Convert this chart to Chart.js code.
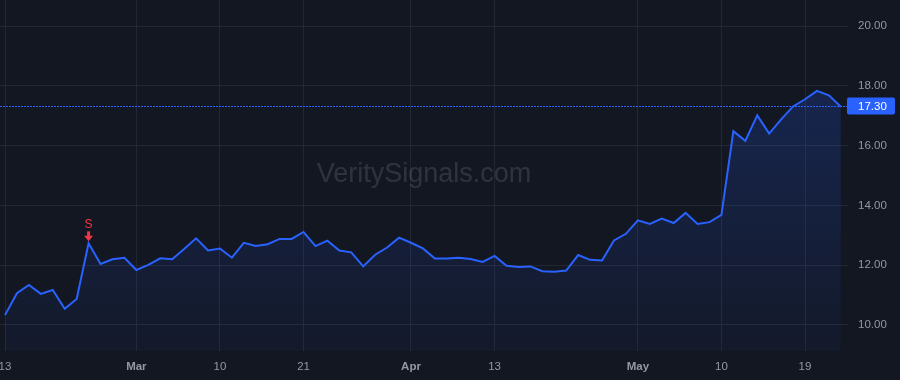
<!DOCTYPE html>
<html>
<head>
<meta charset="utf-8">
<script src="https://cdn.jsdelivr.net/npm/chart.js@4.4.1/dist/chart.umd.min.js"></script>
<style>
html,body{margin:0;padding:0;background:#131722;overflow:hidden;}
#wrap{width:900px;height:380px;position:relative;}
</style>
</head>
<body>
<div id="wrap"><canvas id="c" width="900" height="380"></canvas></div>
<script>
// ---- data ----
const prices = [
  10.33, 11.06, 11.34, 11.04, 11.17, 10.54, 10.87, 12.73, 12.04, 12.20,
  12.25, 11.84, 12.01, 12.23, 12.20, 12.54, 12.90, 12.49, 12.56, 12.25,
  12.75, 12.64, 12.70, 12.88, 12.88, 13.11, 12.64, 12.82, 12.49, 12.43,
  11.96, 12.35, 12.59, 12.92, 12.75, 12.56, 12.22, 12.22, 12.25, 12.21,
  12.11, 12.31, 11.98, 11.94, 11.96, 11.80, 11.78, 11.82, 12.34, 12.18,
  12.16, 12.83, 13.05, 13.50, 13.38, 13.56, 13.41, 13.75, 13.38, 13.44,
  13.68, 16.48, 16.16, 17.01, 16.40, 16.88, 17.31, 17.55, 17.83, 17.68,
  17.30
];
const xTickIndex  = [0, 11, 18, 25, 34, 41, 53, 60, 67];
const xTickLabels = ['13', 'Mar', '10', '21', 'Apr', '13', 'May', '10', '19'];
const monthLabels = ['Mar', 'Apr', 'May'];
const yTicks = [10, 12, 14, 16, 18, 20];
const signalIndex = [7];
const signalText  = ['S'];
const watermarkText = 'VeritySignals.com';

// ---- styling ----
const FONT = '"Liberation Sans", Arial, Helvetica, sans-serif';
const LINE = '#2962ff';
const GRID = '#232733';
const TICK = '#9598a1';

const points = prices.map((v, i) => ({ x: i, y: v }));

const overlay = {
  id: 'overlay',
  beforeDatasetsDraw(chart) {
    const { ctx, chartArea: a } = chart;
    ctx.save();
    ctx.font = '27px ' + FONT;
    ctx.fillStyle = 'rgba(255,255,255,0.12)';
    ctx.textAlign = 'center';
    ctx.textBaseline = 'alphabetic';
    ctx.fillText(watermarkText, (a.left + a.right) / 2, (a.top + a.bottom) / 2 + 6);
    ctx.restore();
  },
  afterDatasetsDraw(chart) {
    const { ctx, chartArea: a, scales: { x, y } } = chart;
    const last = prices[prices.length - 1];
    const py = Math.floor(y.getPixelForValue(last)) + 0.5;
    ctx.save();
    // dotted last-price line
    ctx.strokeStyle = LINE;
    ctx.lineWidth = 1;
    ctx.setLineDash([2, 1]);
    ctx.beginPath();
    ctx.moveTo(a.left, py);
    ctx.lineTo(a.right, py);
    ctx.stroke();
    ctx.setLineDash([]);
    // price label box
    const bx = a.right - 1, bw = 48, bh = 17;
    ctx.fillStyle = LINE;
    ctx.beginPath();
    ctx.roundRect(bx, py - bh / 2 - 0.5, bw, bh, 2);
    ctx.fill();
    ctx.fillStyle = '#ffffff';
    ctx.font = '11.5px ' + FONT;
    ctx.textAlign = 'left';
    ctx.textBaseline = 'middle';
    ctx.fillText(last.toFixed(2), a.right + 10, py);
    // signal markers
    signalIndex.forEach((idx, k) => {
      const sx = x.getPixelForValue(idx);
      const sy = y.getPixelForValue(prices[idx]);
      const tip = sy - 2;
      ctx.fillStyle = '#f23645';
      ctx.beginPath();
      ctx.moveTo(sx - 4.5, tip - 5.5);
      ctx.lineTo(sx + 4.5, tip - 5.5);
      ctx.lineTo(sx, tip);
      ctx.closePath();
      ctx.fill();
      ctx.fillRect(sx - 1.5, tip - 10, 3, 4.6);
      ctx.font = '12px ' + FONT;
      ctx.textAlign = 'center';
      ctx.textBaseline = 'alphabetic';
      ctx.fillText(signalText[k], sx, tip - 13);
    });
    ctx.restore();
  }
};

new Chart(document.getElementById('c'), {
  type: 'line',
  data: {
    datasets: [{
      data: points,
      borderColor: LINE,
      borderWidth: 2,
      pointRadius: 0,
      tension: 0,
      fill: 'start',
      backgroundColor: (ctx) => {
        const a = ctx.chart.chartArea;
        if (!a) return 'rgba(41,98,255,0.1)';
        const g = ctx.chart.ctx.createLinearGradient(0, a.top, 0, a.bottom);
        g.addColorStop(0, 'rgba(41,98,255,0.26)');
        g.addColorStop(1, 'rgba(41,98,255,0.04)');
        return g;
      }
    }]
  },
  options: {
    responsive: false,
    animation: false,
    layout: { padding: 0 },
    plugins: { legend: { display: false }, tooltip: { enabled: false } },
    scales: {
      x: {
        type: 'linear',
        min: -0.42,
        max: 70.6,
        afterBuildTicks: (s) => { s.ticks = xTickIndex.map(v => ({ value: v })); },
        afterFit: (s) => { s.height = 29; s.paddingLeft = 0; s.paddingRight = 0; },
        grid: { color: GRID, drawTicks: false },
        border: { display: false },
        ticks: {
          autoSkip: false,
          maxRotation: 0,
          padding: 9,
          color: TICK,
          font: (ctx) => {
            const i = ctx.tick ? xTickIndex.indexOf(ctx.tick.value) : -1;
            const bold = i >= 0 && monthLabels.includes(xTickLabels[i]);
            return { family: FONT, size: 11.5, weight: bold ? 'bold' : 'normal' };
          },
          callback: (v) => { const i = xTickIndex.indexOf(v); return i >= 0 ? xTickLabels[i] : ''; }
        }
      },
      y: {
        position: 'right',
        min: 9.13,
        max: 20.87,
        afterBuildTicks: (s) => { s.ticks = yTicks.map(v => ({ value: v })); },
        afterFit: (s) => { s.width = 52; s.paddingTop = 0; s.paddingBottom = 0; },
        grid: { color: GRID, drawTicks: false },
        border: { display: false },
        ticks: {
          padding: 10,
          color: TICK,
          font: { family: FONT, size: 11.5 },
          callback: (v) => Number(v).toFixed(2)
        }
      }
    }
  },
  plugins: [overlay]
});
</script>
</body>
</html>
